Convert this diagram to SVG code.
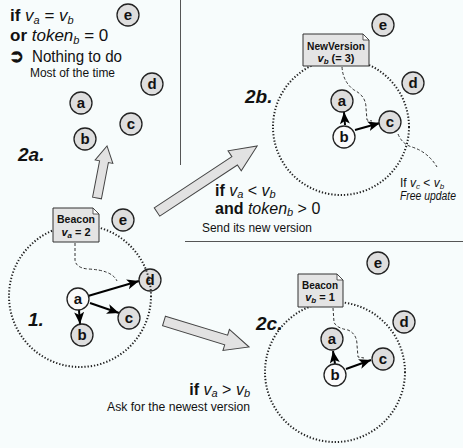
<svg xmlns="http://www.w3.org/2000/svg" width="463" height="448" viewBox="0 0 463 448">
<style>
text{font-family:"Liberation Sans",Arial,sans-serif;fill:#111}
.node circle{fill:#dedede;stroke:#222;stroke-width:1.3}
.node.on circle{fill:#fbfbfb}
.node text{font-size:15px;font-weight:bold;text-anchor:middle}
.zone{fill:none;stroke:#222;stroke-width:2;stroke-dasharray:1.3 1.9}
.note polygon{fill:#e4e4e4;stroke:#333;stroke-width:1}
.note path{fill:#fff;stroke:#333;stroke-width:0.8}
.note text{font-size:11px;font-weight:bold;text-anchor:middle}
.dash{fill:none;stroke:#333;stroke-width:1;stroke-dasharray:3 2}
.arr{fill:none;stroke:#000;stroke-width:2;marker-end:url(#ah)}
.big{fill:#e2e2e2;stroke:#444;stroke-width:1}
.sep{stroke:#555;stroke-width:1}
.lbl{font-size:19px;font-weight:bold;font-style:italic}
.b{font-weight:bold}
.i{font-style:italic}
</style>
<defs>
<marker id="ah" markerUnits="userSpaceOnUse" markerWidth="13" markerHeight="11" refX="12" refY="5" orient="auto">
<path d="M0,0 L12,5 L0,10 L3,5 z" fill="#000"/>
</marker>
</defs>
<rect width="463" height="448" fill="#f7fcfc"/>
<g id="separators">
<line class="sep" x1="180.5" y1="0" x2="180.5" y2="165"/>
<line class="sep" x1="185" y1="241.5" x2="463" y2="241.5"/>
</g>
<g id="transitions">
<polygon class="big" points="0,-4.5 37,-4.5 37,-9 53,0 37,9 37,4.5 0,4.5" transform="translate(97,198) rotate(-79.1)"/>
<polygon class="big" points="0,-5 93,-5 93,-12 120,0 93,12 93,5 0,5" transform="translate(157,212) rotate(-33.4)"/>
<polygon class="big" points="0,-5 65,-5 65,-11 89,0 65,11 65,5 0,5" transform="translate(164,321) rotate(17)"/>
</g>
<g id="connectors">
<path class="dash" d="M75,243 L75,260 Q76,268 88,269 Q112,270 117,281"/>
<path class="arr" d="M88,296 L139,281"/>
<path class="arr" d="M90,303 L119,313"/>
<path class="arr" d="M79,310 L80,324"/>
<path class="dash" d="M342,67 Q343,82 354,90 Q366,96 366,108 L367,120 L372,121"/>
<path class="dash" d="M398,134 Q402,144 412,147 Q428,152 437,167"/>
<path class="arr" d="M355,130 L380,123"/>
<path class="arr" d="M345,125 L344,112"/>
<path class="dash" d="M333,308 L334,322 Q336,328 348,330 Q357,334 357,345 L358,357 L364,358"/>
<path class="arr" d="M346,369 L371,360"/>
<path class="arr" d="M335,364 L333,351"/>
</g>
<g id="panel-2a">
<g id="n2a-e" class="node"><circle cx="128" cy="15" r="11"/><text x="128" y="20">e</text></g>
<g id="n2a-d" class="node"><circle cx="152" cy="84" r="11"/><text x="152" y="89">d</text></g>
<g id="n2a-a" class="node"><circle cx="81" cy="103" r="11"/><text x="81" y="108">a</text></g>
<g id="n2a-b" class="node"><circle cx="85" cy="139" r="11"/><text x="85" y="144">b</text></g>
<g id="n2a-c" class="node"><circle cx="131" cy="124" r="11"/><text x="131" y="129">c</text></g>
</g>
<g id="panel-1">
<g id="n1-e" class="node"><circle cx="123" cy="220" r="11"/><text x="123" y="225">e</text></g>
<g id="n1-d" class="node"><circle cx="150" cy="280" r="11"/><text x="150" y="285">d</text></g>
<g id="n1-a" class="node on"><circle cx="78" cy="299" r="11"/><text x="78" y="304">a</text></g>
<g id="n1-b" class="node"><circle cx="82" cy="335" r="11"/><text x="82" y="340">b</text></g>
<g id="n1-c" class="node"><circle cx="129" cy="318" r="11"/><text x="129" y="323">c</text></g>
<circle class="zone" cx="80" cy="296" r="71"/>
<g id="note-1" class="note">
<polygon points="53,208 93,208 99,214 99,242 53,242"/>
<path d="M93,208 L93,214 L99,214 z"/>
<text x="76" y="223" textLength="38" lengthAdjust="spacingAndGlyphs">Beacon</text>
<text x="76" y="236"><tspan class="i">v</tspan><tspan class="i" font-size="8" dy="2">a</tspan><tspan dy="-2"> = 2</tspan></text>
</g>
</g>
<g id="panel-2b">
<g id="n2b-e" class="node"><circle cx="383" cy="25" r="11"/><text x="383" y="30">e</text></g>
<g id="n2b-d" class="node"><circle cx="413" cy="83" r="11"/><text x="413" y="88">d</text></g>
<g id="n2b-a" class="node"><circle cx="342" cy="101" r="11"/><text x="342" y="106">a</text></g>
<g id="n2b-b" class="node on"><circle cx="344" cy="137" r="11"/><text x="344" y="142">b</text></g>
<g id="n2b-c" class="node"><circle cx="390" cy="122" r="11"/><text x="390" y="127">c</text></g>
<circle class="zone" cx="341" cy="127" r="68"/>
<g id="note-2b" class="note">
<polygon points="303,34 363,34 369,40 369,66 303,66"/>
<path d="M363,34 L363,40 L369,40 z"/>
<text x="336" y="50" textLength="58" lengthAdjust="spacingAndGlyphs">NewVersion</text>
<text x="336" y="62"><tspan class="i">v</tspan><tspan class="i" font-size="8" dy="2">b</tspan><tspan dy="-2"> (= 3)</tspan></text>
</g>
<text x="400" y="187" font-size="12"><tspan>If </tspan><tspan class="i">v</tspan><tspan class="i" font-size="8" dy="1.5">c</tspan><tspan dy="-1.5"> &lt; </tspan><tspan class="i">v</tspan><tspan class="i" font-size="8" dy="1.5">b</tspan></text>
<text x="400" y="200" font-size="12" class="i" textLength="56" lengthAdjust="spacingAndGlyphs">Free update</text>
</g>
<g id="panel-2c">
<g id="n2c-e" class="node"><circle cx="378" cy="263" r="11"/><text x="378" y="268">e</text></g>
<g id="n2c-d" class="node"><circle cx="404" cy="322" r="11"/><text x="404" y="327">d</text></g>
<g id="n2c-a" class="node"><circle cx="332" cy="339" r="11"/><text x="332" y="344">a</text></g>
<g id="n2c-b" class="node on"><circle cx="335" cy="375" r="11"/><text x="335" y="380">b</text></g>
<g id="n2c-c" class="node"><circle cx="383" cy="359" r="11"/><text x="383" y="364">c</text></g>
<circle class="zone" cx="335" cy="372" r="70"/>
<g id="note-2c" class="note">
<polygon points="298,274 337,274 343,280 343,307 298,307"/>
<path d="M337,274 L337,280 L343,280 z"/>
<text x="320" y="289" textLength="36" lengthAdjust="spacingAndGlyphs">Beacon</text>
<text x="320" y="301"><tspan class="i">v</tspan><tspan class="i" font-size="8" dy="2">b</tspan><tspan dy="-2"> = 1</tspan></text>
</g>
</g>
<g id="labels">
<text class="lbl" x="18" y="161">2a.</text>
<text class="lbl" x="28" y="326">1.</text>
<text class="lbl" x="245" y="103">2b.</text>
<text class="lbl" x="256" y="330">2c.</text>
<text x="10" y="21" font-size="17"><tspan class="b">if </tspan><tspan class="i">v</tspan><tspan class="i" font-size="11" dy="3">a</tspan><tspan dy="-3"> = </tspan><tspan class="i">v</tspan><tspan class="i" font-size="11" dy="3">b</tspan></text>
<text x="10" y="41" font-size="17"><tspan class="b">or </tspan><tspan class="i">token</tspan><tspan class="i" font-size="11" dy="3">b</tspan><tspan dy="-3"> = 0</tspan></text>
<text x="9" y="62" font-size="18" font-weight="bold" font-family="DejaVu Sans, sans-serif">➲</text>
<text x="32" y="62" font-size="16" textLength="90" lengthAdjust="spacingAndGlyphs">Nothing to do</text>
<text x="30" y="77" font-size="12" textLength="85" lengthAdjust="spacingAndGlyphs">Most of the time</text>
<text x="215" y="196" font-size="16"><tspan class="b">if </tspan><tspan class="i">v</tspan><tspan class="i" font-size="11" dy="2">a</tspan><tspan dy="-2"> &lt; </tspan><tspan class="i">v</tspan><tspan class="i" font-size="11" dy="2">b</tspan></text>
<text x="215" y="214" font-size="16"><tspan class="b">and </tspan><tspan class="i">token</tspan><tspan class="i" font-size="11" dy="2">b</tspan><tspan dy="-2"> &gt; 0</tspan></text>
<text x="202" y="232" font-size="12" textLength="110" lengthAdjust="spacingAndGlyphs">Send its new version</text>
<text x="250" y="395" font-size="16" text-anchor="end"><tspan class="b">if </tspan><tspan class="i">v</tspan><tspan class="i" font-size="11" dy="2">a</tspan><tspan dy="-2"> &gt; </tspan><tspan class="i">v</tspan><tspan class="i" font-size="11" dy="2">b</tspan></text>
<text x="107" y="411" font-size="12" textLength="143" lengthAdjust="spacingAndGlyphs">Ask for the newest version</text>
</g>
</svg>
